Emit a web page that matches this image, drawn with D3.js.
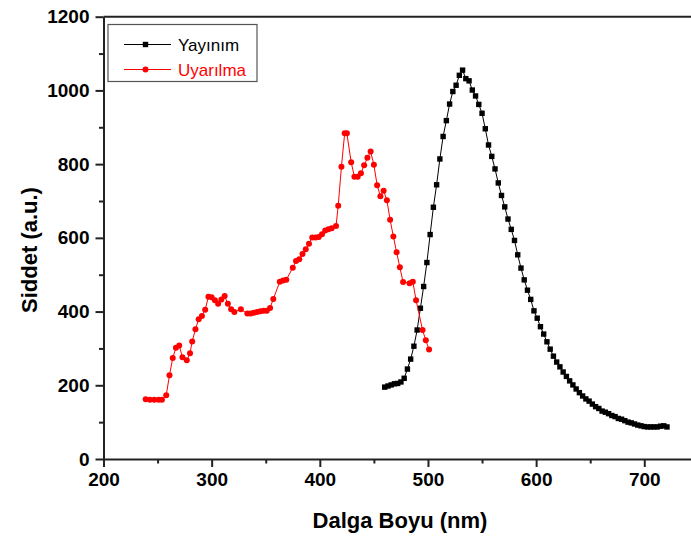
<!DOCTYPE html>
<html>
<head>
<meta charset="utf-8">
<script src="https://cdn.jsdelivr.net/npm/d3@7"></script>
<style>
    html, body { margin: 0; padding: 0; background: #fff; }
    svg { display: block; }
</style>
</head>
<body>
<div id="chart"></div>
<script>
// data

const emission_nm = [
    460, 463, 466, 469, 472, 475, 478, 481, 484, 487, 490, 493, 496, 499, 502, 505, 508, 511, 514, 517,
    520, 523, 526, 529, 532, 535, 538, 541, 544, 547, 550, 553, 556, 559, 562, 565, 568, 571, 574, 577,
    580, 583, 586, 589, 592, 595, 598, 601, 604, 607, 610, 613, 616, 619, 622, 625, 628, 631, 634, 637,
    640, 643, 646, 649, 652, 655, 658, 661, 664, 667, 670, 673, 676, 679, 682, 685, 688, 691, 694, 697,
    700, 703, 706, 709, 712, 715, 718, 721
];
const emission_val = [
    195, 198, 201, 204, 205, 209, 219, 244, 271, 306, 350, 409, 468, 533, 609, 683, 744, 814, 875, 918,
    963, 997, 1014, 1041, 1055, 1032, 1026, 1001, 985, 962, 938, 896, 852, 821, 787, 749, 715, 684, 651, 623,
    593, 554, 518, 486, 458, 433, 402, 382, 359, 339, 318, 298, 279, 263, 250, 236, 224, 212, 201, 190,
    180, 171, 163, 157, 149, 142, 137, 130, 127, 123, 118, 115, 110, 108, 104, 100, 98, 95, 92, 90,
    88, 87, 87, 87, 87, 89, 90, 87
];

const excitation_nm = [
    239, 243, 247, 251, 254, 258, 261, 264, 267, 270, 273, 277, 280, 282, 285, 288, 291, 294, 297, 300,
    303, 306, 309, 312, 315, 318, 321, 327, 333, 336, 339, 342, 345, 348, 351, 354, 357, 363, 366, 369,
    375, 378, 381, 384, 387, 390, 393, 396, 399, 402, 405, 408, 411, 415, 417, 420, 423, 425, 429, 432,
    435, 438, 441, 444, 447, 450, 453, 456, 459, 462, 465, 468, 471, 474, 477, 483, 486, 489, 495, 498,
    501
];
const excitation_val = [
    162, 161, 161, 161, 161, 173, 227, 274, 302, 308, 276, 268, 287, 319, 352, 379, 388, 405, 440, 439,
    431, 421, 433, 442, 421, 406, 399, 406, 395, 395, 397, 399, 401, 402, 402, 410, 434, 481, 484, 486,
    519, 537, 542, 556, 569, 584, 601, 601, 602, 610, 620, 623, 626, 632, 687, 793, 884, 884, 805, 766,
    766, 775, 797, 817, 834, 798, 743, 713, 728, 702, 649, 604, 561, 520, 480, 477, 481, 431, 350, 322,
    297
];

const x_ticks = [200, 300, 400, 500, 600, 700];
const x_minor = [250, 350, 450, 550, 650];
const y_ticks = [0, 200, 400, 600, 800, 1000, 1200];
const y_minor = [100, 300, 500, 700, 900, 1100];

const series_names = ["Yayınım", "Uyarılma"];

// layout

const WIDTH = 691;
const HEIGHT = 536;
const FONT = "'Liberation Sans', Arial, sans-serif";
const SQ = 5.4;     // square marker side
const DOT = 3;      // circle marker radius

let _x = d3.scaleLinear().domain([200, 743.2]).range([103.5, 691]);
let _y = d3.scaleLinear().domain([0, 1200]).range([459, 16.7]);

let _svg = d3.select("#chart")
    .append("svg")
    .attr("width", WIDTH)
    .attr("height", HEIGHT)
    .style("font-family", FONT);

// axes

_svg.append("g")
    .attr("transform", "translate(0," + _y(0) + ")")
    .call(d3.axisBottom(_x).tickValues(x_ticks).tickFormat(d3.format("d")).tickSize(8).tickPadding(6).tickSizeOuter(0));

_svg.append("g")
    .attr("transform", "translate(0," + _y(0) + ")")
    .call(d3.axisBottom(_x).tickValues(x_minor).tickSize(4.5).tickFormat("").tickSizeOuter(0))
    .select(".domain").remove();

_svg.append("g")
    .attr("transform", "translate(" + _x(200) + ",0)")
    .call(d3.axisLeft(_y).tickValues(y_ticks).tickFormat(d3.format("d")).tickSize(8).tickPadding(6).tickSizeOuter(0));

_svg.append("g")
    .attr("transform", "translate(" + _x(200) + ",0)")
    .call(d3.axisLeft(_y).tickValues(y_minor).tickSize(4.5).tickFormat("").tickSizeOuter(0))
    .select(".domain").remove();

_svg.selectAll(".domain, .tick line")
    .attr("stroke", "#222")
    .attr("stroke-width", 2);

_svg.selectAll(".tick text")
    .attr("fill", "#000")
    .style("font-family", FONT)
    .style("font-size", "19px")
    .style("font-weight", "bold");

// top frame line
_svg.append("line")
    .attr("x1", _x(200))
    .attr("x2", WIDTH)
    .attr("y1", _y(1200))
    .attr("y2", _y(1200))
    .attr("stroke", "#222")
    .attr("stroke-width", 2);

// axis titles

_svg.append("text")
    .attr("x", 400)
    .attr("y", 528)
    .attr("text-anchor", "middle")
    .style("font-size", "22px")
    .style("font-weight", "bold")
    .text("Dalga Boyu (nm)");

_svg.append("text")
    .attr("transform", "translate(37,250) rotate(-90)")
    .attr("text-anchor", "middle")
    .style("font-size", "22px")
    .style("font-weight", "bold")
    .text("Siddet (a.u.)");

// series

let _line = d3.line()
    .x(d => _x(d[0]))
    .y(d => _y(d[1]));

let _emission = d3.zip(emission_nm, emission_val);
let _excitation = d3.zip(excitation_nm, excitation_val);

_svg.append("path")
    .datum(_emission)
    .attr("d", _line)
    .attr("fill", "none")
    .attr("stroke", "#000")
    .attr("stroke-width", 1);

_svg.append("g")
    .selectAll("rect")
    .data(_emission)
    .join("rect")
    .attr("x", d => _x(d[0]) - SQ / 2)
    .attr("y", d => _y(d[1]) - SQ / 2)
    .attr("width", SQ)
    .attr("height", SQ)
    .attr("fill", "#000");

_svg.append("path")
    .datum(_excitation)
    .attr("d", _line)
    .attr("fill", "none")
    .attr("stroke", "#ff0000")
    .attr("stroke-width", 1);

_svg.append("g")
    .selectAll("circle")
    .data(_excitation)
    .join("circle")
    .attr("cx", d => _x(d[0]))
    .attr("cy", d => _y(d[1]))
    .attr("r", DOT)
    .attr("fill", "#ff0000");

// legend

let _legend = _svg.append("g");

_legend.append("rect")
    .attr("x", 108)
    .attr("y", 24.5)
    .attr("width", 149)
    .attr("height", 57)
    .attr("fill", "#fff")
    .attr("stroke", "#555")
    .attr("stroke-width", 1.2);

let _legend_items = [
    { name: series_names[0], color: "#000", shape: "square", y: 44.5 },
    { name: series_names[1], color: "#ff0000", shape: "circle", y: 69.5 }
];

_legend_items.forEach(item => {
    _legend.append("line")
        .attr("x1", 124)
        .attr("x2", 171)
        .attr("y1", item.y)
        .attr("y2", item.y)
        .attr("stroke", item.color)
        .attr("stroke-width", 1);

    if (item.shape === "square") {
        _legend.append("rect")
            .attr("x", 145.5 - SQ / 2)
            .attr("y", item.y - SQ / 2)
            .attr("width", SQ)
            .attr("height", SQ)
            .attr("fill", item.color);
    } else {
        _legend.append("circle")
            .attr("cx", 145.5)
            .attr("cy", item.y)
            .attr("r", DOT)
            .attr("fill", item.color);
    }

    _legend.append("text")
        .attr("x", 178)
        .attr("y", item.y + 6)
        .attr("fill", item.color)
        .style("font-size", "17px")
        .text(item.name);
});
</script>
</body>
</html>
